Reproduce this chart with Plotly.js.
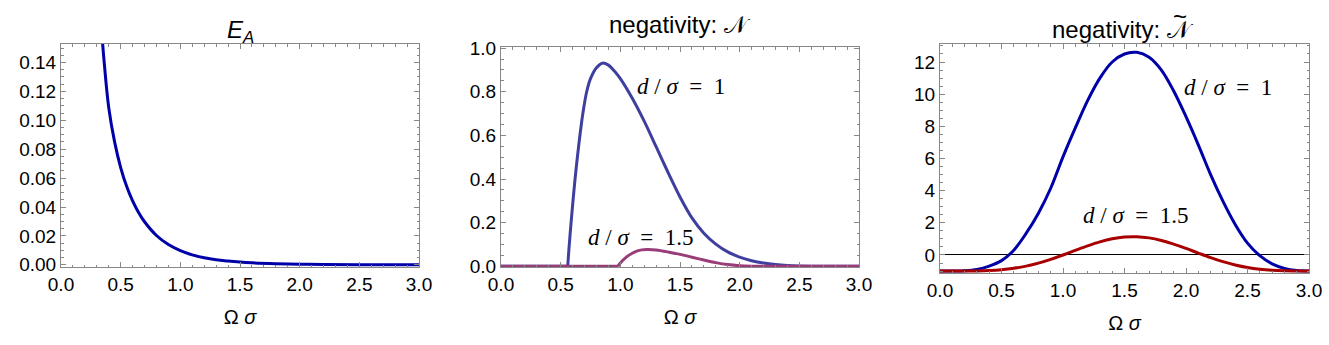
<!DOCTYPE html>
<html>
<head>
<meta charset="utf-8">
<script src="https://cdn.plot.ly/plotly-3.0.1.min.js"></script>
<style>
  html, body { margin: 0; padding: 0; background: #fff; }
  #chart { width: 1329px; height: 345px; }
</style>
</head>
<body>
<div id="chart"></div>
<script>
// E_A (left panel)
var omegaE = [0.32, 0.34, 0.36, 0.40, 0.45, 0.50, 0.55, 0.60, 0.65, 0.70, 0.80, 0.90, 1.00, 1.10, 1.20, 1.30, 1.40, 1.50, 1.60, 1.80, 2.00, 2.20, 2.50, 3.00];
var entA   = [0.190, 0.163, 0.142, 0.1088, 0.0847, 0.0673, 0.0543, 0.0442, 0.0362, 0.0298, 0.0203, 0.0140, 0.0098, 0.0069, 0.0049, 0.0035, 0.0026, 0.0019, 0.0014, 0.0008, 0.0004, 0.0002, 0.0001, 0.00002];

// negativity N (middle panel): zero part, then the curve
var omegaN1Zero = [0, 0.559];
var negN1Zero   = [0, 0];
var omegaN1 = [0.559, 0.57, 0.587, 0.60, 0.62, 0.64, 0.662, 0.69, 0.718, 0.75, 0.80, 0.85, 0.90, 0.95, 1.00, 1.10, 1.20, 1.30, 1.40, 1.50, 1.60, 1.70, 1.80, 1.90, 2.00, 2.10, 2.20, 2.30, 2.40, 2.60, 3.00];
var negN1   = [0, 0.085, 0.199, 0.28, 0.397, 0.50, 0.603, 0.715, 0.80, 0.86, 0.91, 0.931, 0.922, 0.895, 0.86, 0.77, 0.665, 0.548, 0.43, 0.318, 0.222, 0.152, 0.102, 0.066, 0.042, 0.026, 0.015, 0.008, 0.004, 0.0008, 0];
var omegaN15Zero = [0, 0.98];
var negN15Zero   = [0, 0];
var omegaN15 = [0.98, 1.00, 1.05, 1.10, 1.15, 1.22, 1.30, 1.40, 1.50, 1.60, 1.70, 1.80, 1.90, 2.00, 2.10, 2.30, 3.00];
var negN15   = [0, 0.015, 0.042, 0.06, 0.072, 0.077, 0.075, 0.066, 0.055, 0.042, 0.029, 0.017, 0.008, 0.003, 0.001, 0, 0];

// negativity N-tilde (right panel)
var omegaT = [0, 0.1, 0.2, 0.3, 0.4, 0.5, 0.6, 0.7, 0.8, 0.9, 1.0, 1.1, 1.2, 1.3, 1.4, 1.5, 1.6, 1.7, 1.8, 1.9, 2.0, 2.1, 2.2, 2.3, 2.4, 2.5, 2.6, 2.7, 2.8, 2.9, 3.0];
var negT1  = [-1.0, -1.0, -0.98, -0.9, -0.69, -0.35, 0.3, 1.34, 2.6, 4.15, 6.1, 7.9, 9.6, 11.0, 12.0, 12.5, 12.6, 12.3, 11.5, 10.2, 8.6, 6.85, 5.0, 3.35, 1.9, 0.74, -0.04, -0.55, -0.83, -0.96, -0.99];
var negT15 = [-1.0, -1.0, -0.998, -0.99, -0.966, -0.916, -0.827, -0.691, -0.504, -0.269, 0.0, 0.289, 0.569, 0.817, 1.006, 1.117, 1.136, 1.063, 0.904, 0.678, 0.408, 0.12, -0.16, -0.411, -0.619, -0.777, -0.884, -0.949, -0.983, -0.996, -1.0];

var W = 1329, H = 345;
function px(x) { return x / W; }
function py(y) { return (H - y) / H; }

var frame = '#888888';
var tickFont = {family: 'Liberation Sans, Arial, sans-serif', size: 19, color: '#000'};
function axis(extra) {
  var a = {
    showline: true, linecolor: frame, linewidth: 1, mirror: 'allticks',
    ticks: 'inside', ticklen: 5, tickwidth: 1, tickcolor: frame,
    showgrid: false, zeroline: false, tickfont: tickFont
  };
  for (var k in extra) a[k] = extra[k];
  return a;
}
function xaxisFor(domain, yname) {
  return axis({
    domain: domain, anchor: yname, range: [0, 3], dtick: 0.5, tick0: 0, tickformat: '.1f',
    minor: {ticks: 'inside', ticklen: 2.5, dtick: 0.1, tickcolor: frame, tickwidth: 1},
    title: {text: 'Ω <i>σ</i>', font: {family: 'Liberation Sans, Arial, sans-serif', size: 20, color: '#000'}, standoff: 16}
  });
}

var blueDark = '#0000a8';
var redDark = '#a80000';
var blueMid = '#3f3f9f';
var magenta = '#993d78';

var data = [
  {x: omegaE, y: entA, xaxis: 'x', yaxis: 'y', mode: 'lines', line: {color: blueDark, width: 3, shape: 'spline'}},
  {x: omegaN1Zero, y: negN1Zero, xaxis: 'x2', yaxis: 'y2', mode: 'lines', line: {color: blueMid, width: 3}},
  {x: omegaN1, y: negN1, xaxis: 'x2', yaxis: 'y2', mode: 'lines', line: {color: blueMid, width: 3, shape: 'spline', smoothing: 0.8}},
  {x: omegaN15Zero, y: negN15Zero, xaxis: 'x2', yaxis: 'y2', mode: 'lines', line: {color: magenta, width: 3}},
  {x: omegaN15, y: negN15, xaxis: 'x2', yaxis: 'y2', mode: 'lines', line: {color: magenta, width: 3, shape: 'spline', smoothing: 0.8}},
  {x: omegaT, y: negT1, xaxis: 'x3', yaxis: 'y3', mode: 'lines', line: {color: blueDark, width: 3, shape: 'spline'}},
  {x: omegaT, y: negT15, xaxis: 'x3', yaxis: 'y3', mode: 'lines', line: {color: redDark, width: 3, shape: 'spline'}}
];

var serif = {family: 'Liberation Serif, Times New Roman, serif', size: 23, color: '#000'};
var sans = {family: 'Liberation Sans, Arial, sans-serif', size: 24, color: '#000'};
var label1 = '<i>d</i> / <i>σ</i>  =  1';
var label15 = '<i>d</i> / <i>σ</i>  =  1.5';

var layout = {
  width: W, height: H,
  margin: {l: 0, r: 0, t: 0, b: 0},
  paper_bgcolor: '#fff', plot_bgcolor: '#fff',
  showlegend: false,
  xaxis: xaxisFor([px(61), px(419)], 'y'),
  yaxis: axis({domain: [py(267), py(44)], anchor: 'x', range: [-0.0015, 0.1528], dtick: 0.02, tick0: 0, tickformat: '.2f',
    minor: {ticks: 'inside', ticklen: 2.5, dtick: 0.005, tickcolor: frame, tickwidth: 1}}),
  xaxis2: xaxisFor([px(501), px(859)], 'y2'),
  yaxis2: axis({domain: [py(267), py(47)], anchor: 'x2', range: [-0.003, 1.005], dtick: 0.2, tick0: 0, tickformat: '.1f',
    minor: {ticks: 'inside', ticklen: 2.5, dtick: 0.05, tickcolor: frame, tickwidth: 1}}),
  xaxis3: xaxisFor([px(940), px(1309)], 'y3'),
  yaxis3: axis({domain: [py(273), py(44)], anchor: 'x3', range: [-1.12, 13.12], dtick: 2, tick0: 0,
    zeroline: true, zerolinecolor: '#000', zerolinewidth: 1,
    minor: {ticks: 'inside', ticklen: 2.5, dtick: 0.5, tickcolor: frame, tickwidth: 1}}),
  annotations: [
    {xref: 'paper', yref: 'paper', x: px(240), y: py(31), text: '<i>E</i><sub><i>A</i></sub>', showarrow: false, font: sans, xanchor: 'center', yanchor: 'middle'},
    {xref: 'paper', yref: 'paper', x: px(680), y: py(24), text: 'negativity: 𝒩', showarrow: false, font: sans, xanchor: 'center', yanchor: 'middle'},
    {xref: 'paper', yref: 'paper', x: px(1123), y: py(29), text: 'negativity: 𝒩', showarrow: false, font: sans, xanchor: 'center', yanchor: 'middle'},
    {xref: 'paper', yref: 'paper', x: px(1180), y: py(16), text: '~', showarrow: false, font: {family: 'Liberation Sans, Arial, sans-serif', size: 24, color: '#000'}, xanchor: 'center', yanchor: 'middle'},
    {xref: 'x2', yref: 'y2', x: 1.51, y: 0.823, text: label1, showarrow: false, font: serif},
    {xref: 'x2', yref: 'y2', x: 1.165, y: 0.131, text: label15, showarrow: false, font: serif},
    {xref: 'x3', yref: 'y3', x: 2.343, y: 10.42, text: label1, showarrow: false, font: serif},
    {xref: 'x3', yref: 'y3', x: 1.59, y: 2.43, text: label15, showarrow: false, font: serif}
  ]
};

Plotly.newPlot('chart', data, layout, {staticPlot: true});
</script>
</body>
</html>
